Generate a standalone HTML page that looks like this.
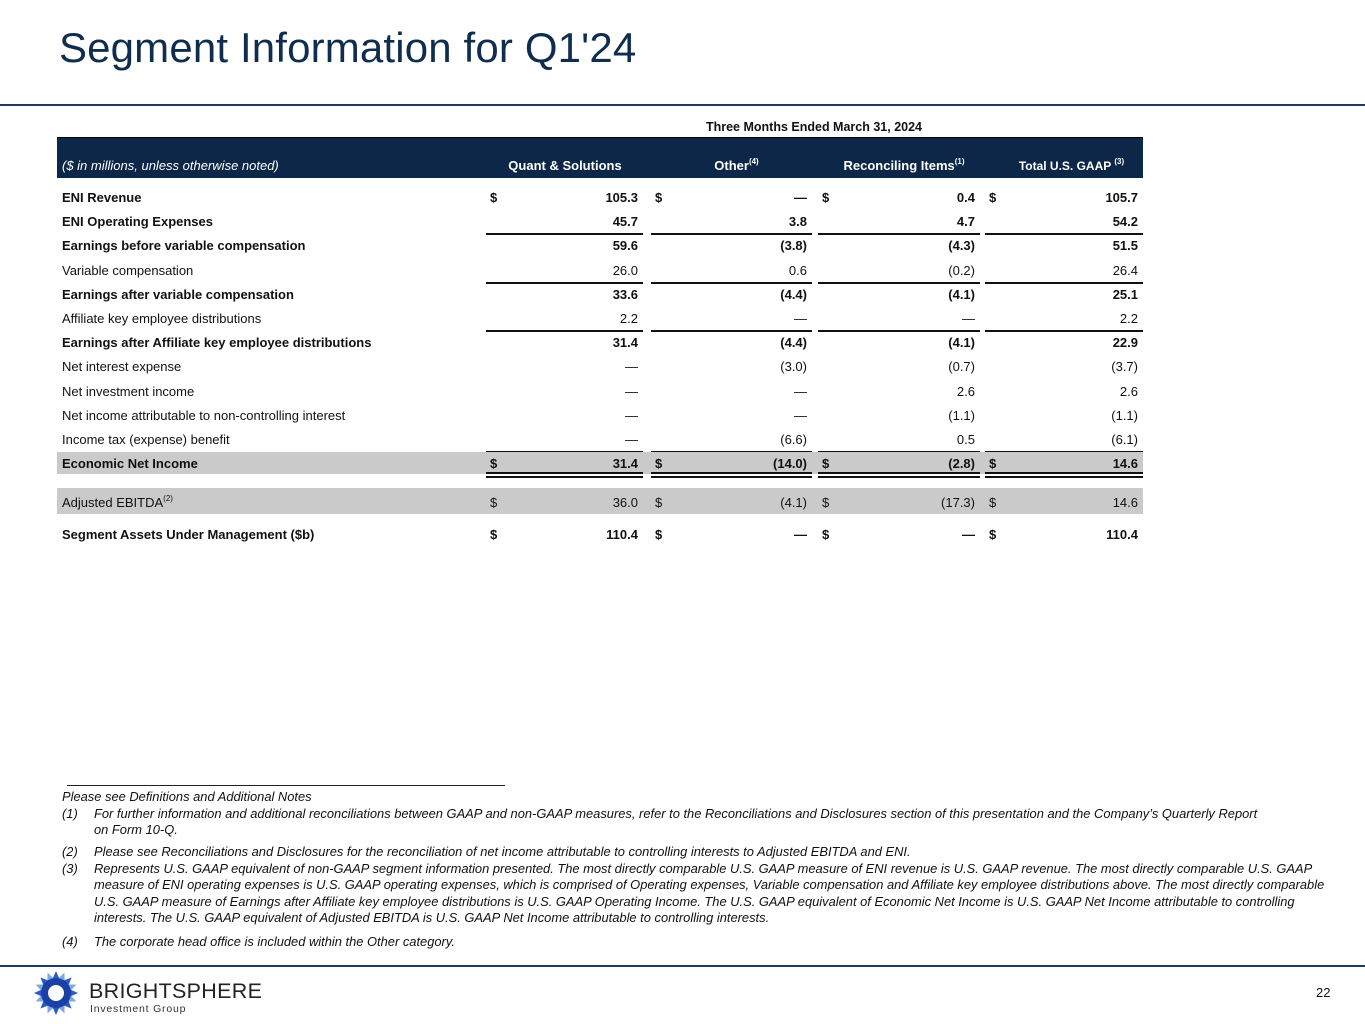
<!DOCTYPE html>
<html><head><meta charset="utf-8">
<style>
*{margin:0;padding:0;box-sizing:border-box}
body{width:1365px;height:1024px;background:#fff;font-family:"Liberation Sans",sans-serif;color:#111;position:relative;overflow:hidden}
.abs{position:absolute}
.t{position:absolute;white-space:nowrap;font-size:13px;line-height:16px}
.b{font-weight:bold}
.r{text-align:right}
.fn{position:absolute;font-size:12.9px;font-style:italic;line-height:16.3px;color:#111}
sup{font-size:8px;vertical-align:baseline;position:relative;top:-6px;line-height:0}
</style></head><body>
<div class="abs" style="left:59px;top:24px;font-size:42px;letter-spacing:0.15px;color:#0f2d4f;white-space:nowrap;">Segment Information for Q1'24</div>
<div class="abs" style="left:0;top:104px;width:1365px;height:2px;background:#1f3a5f"></div>

<div class="t b" style="left:614px;top:119px;width:400px;text-align:center;font-size:12.5px">Three Months Ended March 31, 2024</div>
<div class="abs" style="left:57px;top:137px;width:1086px;height:41px;background:#0c2748;border-top:1px solid #000"></div>
<div class="t" style="left:62px;top:158px;color:#fff;font-style:italic">($ in millions, unless otherwise noted)</div>
<div class="t b" style="left:450px;top:158px;width:230px;text-align:center;color:#fff">Quant &amp; Solutions</div>
<div class="t b" style="left:651px;top:158px;width:161px;text-align:center;color:#fff;padding-left:10px">Other<sup>(4)</sup></div>
<div class="t b" style="left:818px;top:158px;width:162px;text-align:center;color:#fff;padding-left:10px">Reconciling Items<sup>(1)</sup></div>
<div class="t b" style="left:985px;top:158px;width:158px;text-align:center;color:#fff;font-size:12px;padding-left:15px">Total U.S. GAAP <sup>(3)</sup></div>

<div id="rows"></div>

<div class="abs" style="left:67px;top:785px;width:438px;height:1px;background:#222"></div>
<div class="fn" style="left:62px;top:789px">Please see Definitions and Additional Notes</div>
<div class="fn" style="left:62px;top:806px">(1)</div>
<div class="fn" style="left:94px;top:806px;width:1250px">For further information and additional reconciliations between GAAP and non-GAAP measures, refer to the Reconciliations and Disclosures section of this presentation and the Company’s Quarterly Report on&nbsp;Form&nbsp;10&#8209;Q.</div>
<div class="fn" style="left:62px;top:844px">(2)</div>
<div class="fn" style="left:94px;top:844px;width:1250px">Please see Reconciliations and Disclosures for the reconciliation of net income attributable to controlling interests to Adjusted EBITDA and ENI.</div>
<div class="fn" style="left:62px;top:861px">(3)</div>
<div class="fn" style="left:94px;top:861px;width:1240px">Represents U.S. GAAP equivalent of non-GAAP segment information presented. The most directly comparable U.S. GAAP measure of ENI revenue is U.S. GAAP revenue. The most directly comparable U.S. GAAP measure of ENI operating expenses is U.S. GAAP operating expenses, which is comprised of Operating expenses, Variable compensation and Affiliate key employee distributions above. The most directly comparable U.S. GAAP measure of Earnings after Affiliate key employee distributions is U.S. GAAP Operating Income. The U.S. GAAP equivalent of Economic Net Income is U.S. GAAP Net Income attributable to controlling interests. The U.S. GAAP equivalent of Adjusted EBITDA is U.S. GAAP Net Income attributable to controlling interests.</div>
<div class="fn" style="left:62px;top:934px">(4)</div>
<div class="fn" style="left:94px;top:934px">The corporate head office is included within the Other category.</div>

<div class="abs" style="left:0;top:965px;width:1365px;height:2px;background:#1f3a5f"></div>
<svg class="abs" style="left:33px;top:970px" width="46" height="46" viewBox="-23 -23 46 46">
<g id="rays"></g>
<circle r="15" fill="#1a3fa6"/><circle r="8" fill="#fff"/>
</svg>
<div class="abs" style="left:89px;top:979px;font-size:21.5px;letter-spacing:0.3px;color:#222;white-space:nowrap">BRIGHTSPHERE</div>
<div class="abs" style="left:90px;top:1003px;font-size:10.5px;letter-spacing:0.8px;color:#333;white-space:nowrap">Investment Group</div>
<div class="abs" style="left:1316px;top:985px;font-size:13px">22</div>

<script>
const labels=["ENI Revenue","ENI Operating Expenses","Earnings before variable compensation","Variable compensation","Earnings after variable compensation","Affiliate key employee distributions","Earnings after Affiliate key employee distributions","Net interest expense","Net investment income","Net income attributable to non-controlling interest","Income tax (expense) benefit","Economic Net Income","Adjusted EBITDA","Segment Assets Under Management ($b)"];
const quant=["105.3","45.7","59.6","26.0","33.6","2.2","31.4","—","—","—","—","31.4","36.0","110.4"];
const other=["—","3.8","(3.8)","0.6","(4.4)","—","(4.4)","(3.0)","—","—","(6.6)","(14.0)","(4.1)","—"];
const recon=["0.4","4.7","(4.3)","(0.2)","(4.1)","—","(4.1)","(0.7)","2.6","(1.1)","0.5","(2.8)","(17.3)","—"];
const total=["105.7","54.2","51.5","26.4","25.1","2.2","22.9","(3.7)","2.6","(1.1)","(6.1)","14.6","14.6","110.4"];
const bold=[1,1,1,0,1,0,1,0,0,0,0,1,0,1];
const dollar=[1,0,0,0,0,0,0,0,0,0,0,1,1,1];
const underline=[0,1,0,1,0,1,0,0,0,0,1,2,0,0];
const shaded=[0,0,0,0,0,0,0,0,0,0,0,1,1,0];
const rowTop=[190,214,238,263,287,311,335,359,384,408,432,456,495,527];
const cols=[[486,643],[651,812],[818,980],[985,1143]];
const host=document.getElementById('rows');
function mk(cls,style,text){const d=document.createElement('div');d.className=cls;d.style.cssText=style;if(text!==undefined)d.textContent=text;host.appendChild(d);return d;}
labels.forEach((lab,i)=>{
  const top=rowTop[i];
  if(shaded[i]){const s=mk('abs',`left:57px;top:${i==12?488:452}px;width:1086px;height:${i==12?26:22}px;background:#c9cac9`);
    
    }
  const l=mk('t'+(bold[i]?' b':''),`left:62px;top:${top}px`,lab);
  
  
  if(i==12){const sp=document.createElement('sup');sp.textContent='(2)';l.appendChild(sp);}
  [quant,other,recon,total].forEach((arr,c)=>{
    const [x0,x1]=cols[c];
    if(dollar[i]){const d=mk('t'+(bold[i]?' b':''),`left:${x0+4}px;top:${top}px`,'$');
      
      }
    const v=mk('t r'+(bold[i]?' b':''),`left:${x0}px;top:${top}px;width:${x1-x0-5}px`,arr[i]);
    
    
    if(underline[i]){const y=(i==11?472:(i==10?451:top+19));
      const u=mk('abs',`left:${x0}px;top:${y}px;width:${x1-x0}px;height:1.5px;background:#111`);
      
      
      if(underline[i]==2){const u2=mk('abs',`left:${x0}px;top:${y+4}px;width:${x1-x0}px;height:1.5px;background:#111`);
        
        }}
  });
});
const g=document.getElementById('rays');
for(let k=0;k<16;k++){const p=document.createElementNS('http://www.w3.org/2000/svg','polygon');
  p.setAttribute('points','0,-22 4,-13 -4,-13');
  p.setAttribute('transform','rotate('+(k*22.5)+')');
  p.setAttribute('fill',k%2?'#7fa6e0':'#2a5cc0');
  
  
  g.appendChild(p);}
</script>
</body></html>
